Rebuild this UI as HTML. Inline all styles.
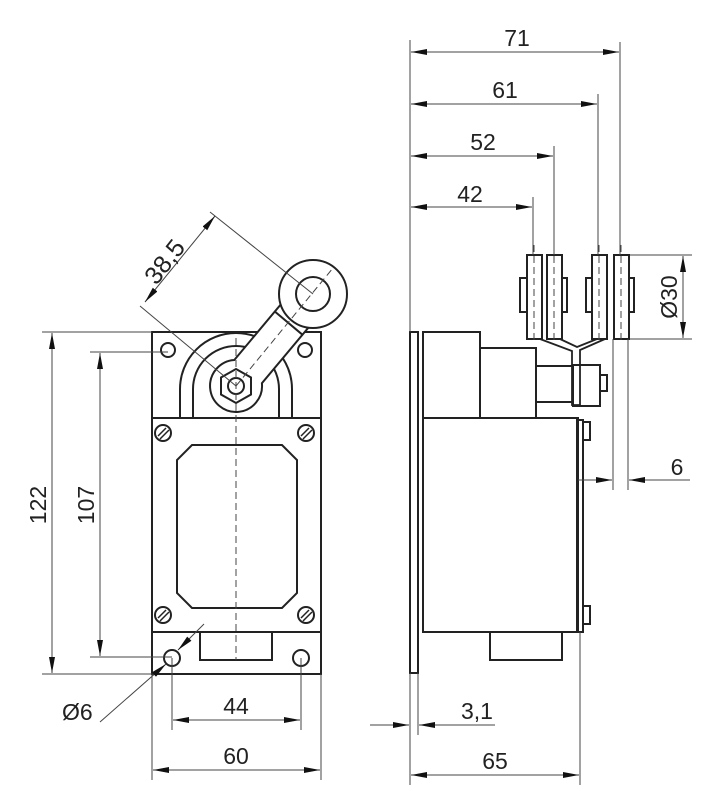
<!DOCTYPE html>
<html><head><meta charset="utf-8"><style>body{margin:0;background:#fff}svg{display:block}</style></head>
<body>
<svg width="710" height="800" viewBox="0 0 710 800" xmlns="http://www.w3.org/2000/svg" font-family="Liberation Sans, sans-serif">
<defs>
<marker id="a" viewBox="0 0 16 6" refX="16" refY="3" markerWidth="16" markerHeight="6" orient="auto-start-reverse" markerUnits="userSpaceOnUse"><path d="M0,0L16,3L0,6z" fill="#111"/></marker>
</defs>
<g stroke="#222" stroke-width="2" fill="none">
<!-- front view -->
<rect x="152" y="332" width="169" height="342"/>
<line x1="152" y1="418" x2="321" y2="418"/>
<line x1="152" y1="632" x2="321" y2="632"/>
<circle cx="168" cy="350" r="7"/><circle cx="305" cy="350" r="7"/>
<circle cx="172" cy="658" r="8"/><circle cx="301" cy="658" r="8"/>
<path d="M192,445H282L297,460V593L282,608H192L177,593V460Z"/>
<rect x="200" y="632" width="72" height="28"/>
<path d="M180,418V389A56,56 0 0 1 292,389V418"/>
<path d="M193,418V389A43,43 0 0 1 279,389V418"/>
<g>
<circle cx="163" cy="433" r="8"/><circle cx="306" cy="433" r="8"/><circle cx="163" cy="615" r="8"/><circle cx="306" cy="615" r="8"/>
</g>
<g stroke-width="1.5">
<path d="M158,436L166,428M160,439L169,430"/><path d="M301,436L309,428M303,439L312,430"/>
<path d="M158,618L166,610M160,621L169,612"/><path d="M301,618L309,610M303,621L312,612"/>
</g>
<!-- lever -->
<path d="M234.3,360L299.2,282.4L326.8,305.6L261.9,383.2A26,26 0 1 1 234.3,360Z" fill="#fff"/>
<line x1="274.8" y1="311.5" x2="302.4" y2="334.7"/>
<circle cx="313" cy="294" r="34" fill="#fff"/>
<circle cx="313" cy="294" r="17"/>
<path d="M236,369L251,377.5V394.5L236,403L221,394.5V377.5Z" fill="#fff"/>
<circle cx="236" cy="386" r="8"/>
<!-- side view -->
<rect x="410" y="332" width="8" height="341"/>
<rect x="423" y="418" width="155" height="214"/>
<rect x="423" y="332" width="57" height="86"/>
<rect x="480" y="348" width="56" height="70"/>
<rect x="536" y="366" width="37" height="36"/>
<rect x="573" y="365" width="27" height="41"/>
<rect x="600" y="375" width="7" height="16"/>
<rect x="577" y="420" width="6" height="212"/>
<rect x="583" y="422" width="7" height="18"/><rect x="583" y="606" width="7" height="18"/>
<rect x="490" y="632" width="72" height="28"/>
<rect x="527" y="255" width="15" height="84" fill="#fff"/>
<rect x="547" y="255" width="15" height="84" fill="#fff"/>
<rect x="592" y="255" width="15" height="84" fill="#fff"/>
<rect x="614" y="255" width="15" height="84" fill="#fff"/>
<rect x="520" y="278" width="7" height="34"/><rect x="562" y="278" width="5" height="34"/>
<rect x="586" y="278" width="6" height="34"/><rect x="629" y="278" width="5" height="34"/>
<path d="M540,339L572,351V405H580V350L605,339M560,339L577,347L597,339" stroke-width="1.8"/>
</g>
<g stroke="#444" stroke-width="1" fill="none">
<path d="M236,338V660" stroke-dasharray="7,4"/>
<path d="M236,386L333,268" stroke-dasharray="7,4"/>
<path d="M534,245V340M554,245V340M599,245V340M621,245V340" stroke-dasharray="7,4"/>
<!-- 38,5 -->
<line x1="236" y1="386" x2="140" y2="306"/><line x1="313" y1="294" x2="210" y2="212"/>
<line x1="145" y1="302" x2="215" y2="216" marker-start="url(#a)" marker-end="url(#a)"/>
<!-- left dims -->
<line x1="42" y1="332" x2="152" y2="332"/><line x1="42" y1="674" x2="152" y2="674"/>
<line x1="90" y1="352" x2="168" y2="352"/><line x1="90" y1="657" x2="172" y2="657"/>
<line x1="52" y1="333" x2="52" y2="673" marker-start="url(#a)" marker-end="url(#a)"/>
<line x1="100" y1="353" x2="100" y2="656" marker-start="url(#a)" marker-end="url(#a)"/>
<!-- bottom dims -->
<line x1="152" y1="674" x2="152" y2="780"/><line x1="321" y1="674" x2="321" y2="780"/>
<line x1="172" y1="658" x2="172" y2="730"/><line x1="301" y1="658" x2="301" y2="730"/>
<line x1="173" y1="720" x2="300" y2="720" marker-start="url(#a)" marker-end="url(#a)"/>
<line x1="153" y1="770" x2="320" y2="770" marker-start="url(#a)" marker-end="url(#a)"/>
<line x1="100" y1="722" x2="166" y2="664" marker-end="url(#a)"/>
<line x1="204" y1="624" x2="178" y2="650" marker-end="url(#a)"/>
<!-- side dims -->
<line x1="410" y1="40" x2="410" y2="332"/><line x1="410" y1="673" x2="410" y2="785"/>
<line x1="418" y1="673" x2="418" y2="735"/>
<line x1="533" y1="197" x2="533" y2="255"/><line x1="554" y1="146" x2="554" y2="255"/>
<line x1="598" y1="94" x2="598" y2="255"/><line x1="620" y1="42" x2="620" y2="255"/>
<line x1="411" y1="52" x2="619" y2="52" marker-start="url(#a)" marker-end="url(#a)"/>
<line x1="411" y1="104" x2="597" y2="104" marker-start="url(#a)" marker-end="url(#a)"/>
<line x1="411" y1="156" x2="553" y2="156" marker-start="url(#a)" marker-end="url(#a)"/>
<line x1="411" y1="207" x2="532" y2="207" marker-start="url(#a)" marker-end="url(#a)"/>
<line x1="630" y1="255" x2="692" y2="255"/><line x1="630" y1="339" x2="692" y2="339"/>
<line x1="683" y1="256" x2="683" y2="338" marker-start="url(#a)" marker-end="url(#a)"/>
<line x1="613" y1="339" x2="613" y2="490"/><line x1="628" y1="339" x2="628" y2="490"/>
<line x1="578" y1="480" x2="612" y2="480" marker-end="url(#a)"/>
<line x1="690" y1="480" x2="629" y2="480" marker-end="url(#a)"/>
<line x1="370" y1="725" x2="409" y2="725" marker-end="url(#a)"/>
<line x1="495" y1="725" x2="419" y2="725" marker-end="url(#a)"/>
<line x1="580" y1="632" x2="580" y2="785"/>
<line x1="411" y1="775" x2="579" y2="775" marker-start="url(#a)" marker-end="url(#a)"/>
</g>
<g fill="#222" font-size="23">
<text x="165" y="270" transform="rotate(-52 165 262)" text-anchor="middle" font-size="25">38,5</text>
<text x="46" y="505" transform="rotate(-90 46 505)" text-anchor="middle">122</text>
<text x="94" y="505" transform="rotate(-90 94 505)" text-anchor="middle">107</text>
<text x="236" y="714" text-anchor="middle">44</text>
<text x="236" y="764" text-anchor="middle">60</text>
<text x="62" y="720">Ø6</text>
<text x="517" y="46" text-anchor="middle">71</text>
<text x="505" y="98" text-anchor="middle">61</text>
<text x="483" y="150" text-anchor="middle">52</text>
<text x="470" y="202" text-anchor="middle">42</text>
<text x="677" y="297" transform="rotate(-90 677 297)" text-anchor="middle">Ø30</text>
<text x="677" y="475" text-anchor="middle">6</text>
<text x="477" y="719" text-anchor="middle">3,1</text>
<text x="495" y="769" text-anchor="middle">65</text>
</g>
</svg>
</body></html>
